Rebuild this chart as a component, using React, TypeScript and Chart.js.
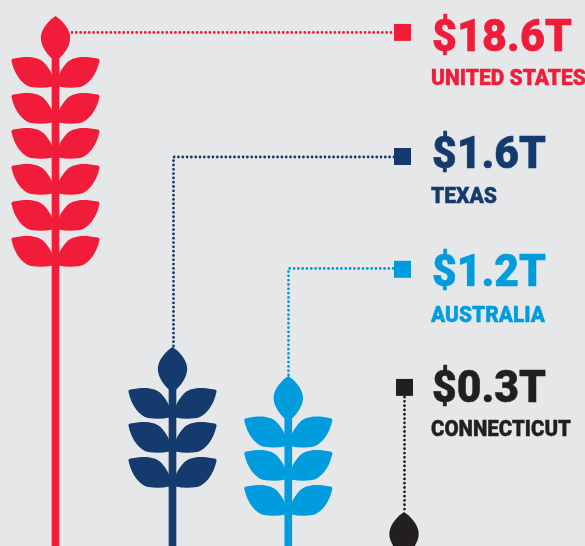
import React, { useEffect, useRef } from "react";
import { Chart, registerables } from "chart.js";

Chart.register(...registerables);

const regions = ["UNITED STATES", "TEXAS", "AUSTRALIA", "CONNECTICUT"];
const amounts = ["$18.6T", "$1.6T", "$1.2T", "$0.3T"];
const colors = ["#f01c3a", "#143a6e", "#009cde", "#231f20"];
const stemX = [55.5, 172.5, 288.3, 404];
const stemTop = [16, 347, 376, 512];
const leafTiers = [
  [57, 93, 128, 164, 200, 236],
  [388, 422, 457],
  [416.7, 450, 485],
  [],
];
const markerX = [402.5, 402.5, 402.5, 404.5];
const markerY = [32.4, 156.5, 269.3, 387.4];
const connectorPaths = [
  [{ x: 72, y: 32.5 }, { x: 394, y: 32.5 }],
  [{ x: 173.5, y: 346 }, { x: 173.5, y: 157 }, { x: 394, y: 157 }],
  [{ x: 288.5, y: 375 }, { x: 288.5, y: 268.5 }, { x: 394, y: 268.5 }],
  [{ x: 404.5, y: 397 }, { x: 404.5, y: 511 }],
];
const amountX = [432, 432, 432, 432];
const amountBase = [50.5, 167.5, 285.5, 401.5];
const amountW = [140, 114, 114, 114];
const regionX = [431, 431, 431, 431];
const regionBase = [85, 202.5, 321.7, 436];
const regionW = [155, 66, 114, 140];

const leafPath = new Path2D(
  "M3 29.5C10 31 17 31 24.5 30C33 28 41 18 44 4Q44.5 2 42 1.5C30 -1 19 -1 12 5C8 9 4.5 14 3 19Z"
);
const budPath = new Path2D(
  "M0 0C5 3 14.7 12 14.7 22C14.7 31 7 40 0 46C-7 40 -14.7 31 -14.7 22C-14.7 12 -5 3 0 0Z"
);

const plantPlugin = {
  id: "plants",
  afterDatasetsDraw(chart: any) {
    const { ctx, scales } = chart;
    stemX.forEach((sx, i) => {
      const px = scales.x.getPixelForValue(sx);
      ctx.save();
      ctx.fillStyle = colors[i];
      ctx.save();
      ctx.translate(px, scales.y.getPixelForValue(stemTop[i]));
      ctx.fill(budPath);
      ctx.restore();
      leafTiers[i].forEach((t) => {
        const py = scales.y.getPixelForValue(t);
        [1, -1].forEach((dir) => {
          ctx.save();
          ctx.translate(px, py);
          ctx.scale(dir, 1);
          ctx.fill(leafPath);
          ctx.restore();
        });
      });
      ctx.restore();
    });
  },
};

const fitText = (ctx: any, text: string, x: number, y: number, w: number, bold: number) => {
  const m = ctx.measureText(text).width;
  ctx.save();
  ctx.translate(x, y);
  ctx.scale(w / m, 1);
  ctx.lineWidth = bold;
  ctx.lineJoin = "round";
  ctx.strokeText(text, 0, 0);
  ctx.fillText(text, 0, 0);
  ctx.restore();
};

const labelPlugin = {
  id: "labels",
  afterDraw(chart: any) {
    const { ctx, scales } = chart;
    ctx.save();
    ctx.textBaseline = "alphabetic";
    ctx.textAlign = "left";
    regions.forEach((name, i) => {
      ctx.fillStyle = colors[i];
      ctx.strokeStyle = colors[i];
      ctx.font = "900 45px Roboto";
      fitText(ctx, amounts[i], scales.x.getPixelForValue(amountX[i]), scales.y.getPixelForValue(amountBase[i]), amountW[i], 0.5);
      ctx.font = "900 22px Roboto";
      fitText(ctx, name, scales.x.getPixelForValue(regionX[i]), scales.y.getPixelForValue(regionBase[i]), regionW[i], 0.4);
    });
    ctx.restore();
  },
};

export default function App() {
  const ref = useRef<HTMLCanvasElement>(null);
  useEffect(() => {
    document.body.style.margin = "0";
    document.body.style.background = "#e5e7e9";
    const chart = new Chart(ref.current as HTMLCanvasElement, {
      type: "bar",
      data: {
        datasets: [
          {
            type: "bar",
            data: stemX.map((x, i) => ({ x, y: stemTop[i] + 20 })),
            backgroundColor: colors,
            barThickness: 7,
            base: 546,
            order: 2,
          },
          ...connectorPaths.map((path, i) => ({
            type: "line" as const,
            data: path,
            borderColor: colors[i],
            borderWidth: 2.8,
            borderDash: [0.01, 4.3],
            borderCapStyle: "round",
            pointRadius: 0,
            fill: false,
            tension: 0,
            order: 1,
          })),
          {
            type: "scatter" as const,
            data: markerX.map((x, i) => ({ x, y: markerY[i] })),
            backgroundColor: colors,
            borderWidth: 0,
            pointStyle: "rect",
            pointRadius: 12,
            order: 0,
          },
        ] as any,
      },
      options: {
        responsive: false,
        animation: false,
        layout: { padding: 0, autoPadding: false },
        plugins: { legend: { display: false }, tooltip: { enabled: false } },
        scales: {
          x: { type: "linear", min: 0, max: 585, display: false, offset: false },
          y: { type: "linear", min: 0, max: 546, reverse: true, display: false },
        },
      },
      plugins: [plantPlugin, labelPlugin],
    });
    return () => chart.destroy();
  }, []);
  return (
    <canvas
      ref={ref}
      width={585}
      height={546}
      style={{ display: "block", width: 585, height: 546, background: "#e5e7e9" }}
    />
  );
}
